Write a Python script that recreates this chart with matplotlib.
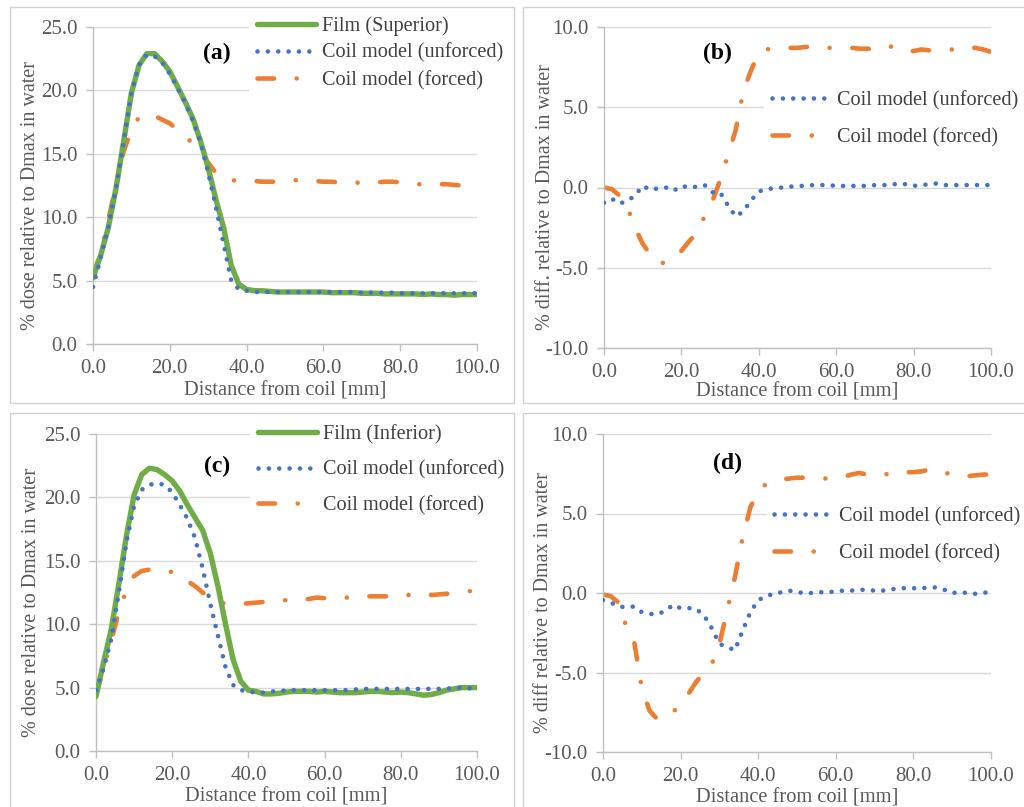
import numpy as np
import matplotlib
matplotlib.use("Agg")
import matplotlib.pyplot as plt
from matplotlib.patches import Rectangle

plt.rcParams["font.family"] = ["Liberation Serif", "DejaVu Serif"]
plt.rcParams["axes.unicode_minus"] = False

# Distance from coil [mm]
distance_mm = np.arange(0, 101, 2)

# (a) superior profile: % dose relative to Dmax in water
film_superior = [5.2, 7.0, 9.2, 12.3, 16.0, 19.8, 22.0, 22.9, 22.9, 22.3,
                 21.5, 20.3, 19.1, 17.8, 16.0, 13.9, 11.4, 9.2, 6.2, 4.7,
                 4.3, 4.2, 4.2, 4.15, 4.1, 4.1, 4.1, 4.1, 4.1, 4.1,
                 4.1, 4.05, 4.05, 4.05, 4.05, 4.0, 4.0, 4.0, 3.95, 3.95,
                 3.95, 3.95, 3.95, 3.9, 3.95, 3.9, 3.9, 3.85, 3.9, 3.9,
                 3.9]
unforced_superior = [4.5, 6.8, 9.3, 12.3, 16.0, 19.8, 22.0, 22.8, 22.7, 22.2,
                     21.3, 20.2, 19.0, 17.6, 15.9, 13.5, 10.8, 7.9, 5.0, 4.3,
                     4.2, 4.1, 4.1, 4.1, 4.1, 4.1, 4.1, 4.1, 4.1, 4.1,
                     4.1, 4.1, 4.1, 4.1, 4.1, 4.05, 4.05, 4.05, 4.05, 4.05,
                     4.0, 4.0, 4.0, 4.0, 4.0, 4.0, 4.0, 4.0, 4.0, 4.0,
                     4.0]
forced_superior = [5.4, 7.2, 9.8, 12.6, 15.2, 16.9, 17.9, 18.1, 18.0, 17.7,
                   17.4, 16.9, 16.4, 15.8, 15.2, 14.3, 13.5, 13.1, 12.9, 12.9,
                   12.85, 12.85, 12.8, 12.8, 12.8, 12.85, 12.9, 12.95, 12.9, 12.85,
                   12.8, 12.8, 12.75, 12.75, 12.75, 12.7, 12.7, 12.75, 12.8, 12.8,
                   12.75, 12.7, 12.65, 12.55, 12.55, 12.6, 12.6, 12.55, 12.5, 12.5,
                   12.45]

# (b) superior: % difference relative to Dmax in water
diff_unforced_superior = [-0.95, -0.7, -1.0, -0.85, -0.5, 0.1, -0.15, -0.05, 0.0, -0.2,
                          0.1, 0.0, 0.05, 0.15, -0.3, -0.3, -1.1, -1.8, -1.5, -0.8,
                          -0.25, -0.1, -0.05, 0.0, 0.05, 0.1, 0.1, 0.15, 0.15, 0.15,
                          0.1, 0.1, 0.1, 0.1, 0.1, 0.15, 0.15, 0.15, 0.25, 0.2,
                          0.1, 0.15, 0.2, 0.25, 0.15, 0.15, 0.15, 0.15, 0.15, 0.15,
                          0.15]
diff_forced_superior = [0.0, -0.1, -0.5, -1.2, -2.5, -3.5, -4.2, -4.7, -4.7, -4.4,
                        -3.95, -3.35, -2.8, -1.8, -0.85, 0.45, 2.0, 3.55, 6.0, 7.3,
                        8.4, 8.6, 8.7, 8.75, 8.7, 8.7, 8.75, 8.8, 8.75, 8.7,
                        8.7, 8.7, 8.7, 8.65, 8.65, 8.6, 8.7, 8.8, 8.55, 8.5,
                        8.5, 8.6, 8.55, 8.55, 8.55, 8.6, 8.6, 8.7, 8.7, 8.6,
                        8.45]

# (c) inferior profile
film_inferior = [4.3, 7.0, 9.6, 13.2, 17.0, 20.2, 21.8, 22.3, 22.2, 21.8,
                 21.3, 20.5, 19.4, 18.4, 17.4, 15.6, 13.0, 10.0, 7.2, 5.5,
                 4.8, 4.7, 4.5, 4.5, 4.55, 4.65, 4.7, 4.7, 4.7, 4.65,
                 4.7, 4.65, 4.6, 4.6, 4.6, 4.65, 4.7, 4.7, 4.65, 4.6,
                 4.65, 4.6, 4.5, 4.4, 4.45, 4.6, 4.8, 4.9, 5.0, 5.0,
                 5.0]
unforced_inferior = [4.8, 6.5, 8.8, 12.5, 16.5, 19.3, 20.6, 21.0, 21.1, 21.0,
                     20.4, 19.4, 18.3, 16.8, 14.4, 11.6, 9.1, 6.6, 5.2, 4.8,
                     4.7, 4.6, 4.6, 4.7, 4.7, 4.8, 4.8, 4.8, 4.8, 4.8,
                     4.8, 4.8, 4.8, 4.8, 4.85, 4.9, 4.9, 4.9, 4.9, 4.9,
                     4.9, 4.9, 4.9, 4.9, 4.9, 4.9, 4.9, 5.0, 5.0, 4.95,
                     4.95]
forced_inferior = [4.5, 6.5, 8.7, 11.0, 12.7, 13.8, 14.2, 14.3, 14.3, 14.3,
                   14.1, 13.8, 13.4, 13.0, 12.5, 12.0, 11.8, 11.6, 11.6, 11.6,
                   11.65, 11.7, 11.75, 11.8, 11.85, 11.9, 11.9, 11.9, 12.0, 12.1,
                   12.05, 12.1, 12.1, 12.1, 12.1, 12.2, 12.2, 12.2, 12.2, 12.25,
                   12.3, 12.3, 12.4, 12.45, 12.3, 12.35, 12.4, 12.45, 12.5, 12.6,
                   12.7]

# (d) inferior: % difference relative to Dmax in water
diff_unforced_inferior = [-0.45, -0.6, -0.85, -0.9, -0.85, -1.2, -1.32, -1.32, -1.15, -0.75,
                          -0.95, -0.95, -1.0, -1.4, -2.2, -3.2, -3.4, -3.6, -2.35, -1.2,
                          -0.45, -0.2, -0.05, 0.05, 0.15, 0.05, 0.0, 0.0, 0.05, 0.05,
                          0.1, 0.15, 0.15, 0.2, 0.2, 0.15, 0.15, 0.2, 0.3, 0.3,
                          0.3, 0.3, 0.35, 0.35, 0.2, 0.0, 0.05, 0.0, -0.05, 0.0,
                          0.1]
diff_forced_inferior = [-0.1, -0.2, -0.6, -2.1, -3.0, -6.0, -7.4, -7.95, -7.8, -7.5,
                        -7.0, -6.35, -5.6, -5.0, -4.5, -3.2, -1.1, 1.0, 3.5, 5.4,
                        6.4, 6.85, 7.0, 7.15, 7.2, 7.25, 7.25, 7.2, 7.2, 7.2,
                        7.25, 7.3, 7.45, 7.55, 7.45, 7.4, 7.45, 7.5, 7.6, 7.6,
                        7.6, 7.65, 7.75, 7.75, 7.6, 7.4, 7.4, 7.35, 7.4, 7.45,
                        7.45]

x_ticks = [0, 20, 40, 60, 80, 100]
dose_ticks = [0, 5, 10, 15, 20, 25]
diff_ticks = [-10, -5, 0, 5, 10]

GREEN = "#70AD47"
BLUE = "#4472C4"
ORANGE = "#ED7D31"
GRID = "#D9D9D9"
AXIS = "#BFBFBF"
TICKTXT = "#595959"
LEGTXT = "#404040"

TICK_FS = 15
LABEL_FS = 14.7
YLABEL_FS = 14.5
LEGEND_FS = 14.6

W, H = 1024, 807
fig = plt.figure(figsize=(W / 100, H / 100), dpi=100)
fig.patch.set_facecolor("white")


def px_axes(left, right, top, bottom):
    return fig.add_axes([left / W, 1 - bottom / H, (right - left) / W, (bottom - top) / H])


def style_axes(ax, ylim, yticks, ylabel, xlab_y, ylab_x):
    ax.set_xlim(0, 100)
    ax.set_ylim(*ylim)
    ax.set_xticks(x_ticks)
    ax.set_yticks(yticks)
    ax.set_xticklabels([f"{v:.1f}" for v in x_ticks])
    ax.set_yticklabels([f"{v:.1f}" for v in yticks])
    ax.grid(axis="y", color=GRID, lw=1.0)
    ax.set_axisbelow(True)
    for s in ("top", "right"):
        ax.spines[s].set_visible(False)
    for s in ("left", "bottom"):
        ax.spines[s].set_color(AXIS)
        ax.spines[s].set_linewidth(1.0)
    ax.tick_params(direction="out", length=5, width=1, color=AXIS,
                   labelcolor=TICKTXT, labelsize=TICK_FS, pad=6)
    ax.set_xlabel("Distance from coil [mm]", fontsize=LABEL_FS, color=TICKTXT)
    ax.set_ylabel(ylabel, fontsize=YLABEL_FS, color=TICKTXT)
    ax.xaxis.set_label_coords(0.5, xlab_y)
    ax.yaxis.set_label_coords(ylab_x, 0.47)


def plot_film(ax, y, label):
    ax.plot(distance_mm, y, color=GREEN, lw=3.9, solid_capstyle="round",
            solid_joinstyle="round", label=label, zorder=3)


def plot_unforced(ax, y):
    ax.plot(distance_mm, y, color=BLUE, lw=3.3, linestyle=(0, (0.01, 2.25)),
            dash_capstyle="round", label="Coil model (unforced)", zorder=4)


def plot_forced(ax, y):
    ax.plot(distance_mm, y, color=ORANGE, lw=3.3, linestyle=(0, (3.6, 4.95, 0.01, 4.95)),
            dash_capstyle="round", label="Coil model (forced)", zorder=2)


def add_legend(ax, x_px, y_px, spacing):
    leg = ax.legend(loc="upper left", bbox_to_anchor=(x_px / W, 1 - y_px / H),
                    bbox_transform=fig.transFigure, borderaxespad=0, frameon=True,
                    fancybox=False, edgecolor="none", facecolor="white", framealpha=1,
                    fontsize=LEGEND_FS, handlelength=2.9, handletextpad=0.3,
                    labelspacing=spacing, borderpad=0.4)
    for t in leg.get_texts():
        t.set_color(LEGTXT)
    return leg


# (a)
ax_a = px_axes(93, 477, 27, 344)
style_axes(ax_a, (0, 25), dose_ticks, "% dose relative to Dmax in water", -0.118, -0.138)
plot_film(ax_a, film_superior, "Film (Superior)")
plot_unforced(ax_a, unforced_superior)
plot_forced(ax_a, forced_superior)
add_legend(ax_a, 249, 8, 0.38)

# (b)
ax_b = px_axes(604, 991, 27, 348)
style_axes(ax_b, (-10, 10), diff_ticks, "% diff. relative to Dmax in water", -0.107, -0.127)
plot_unforced(ax_b, diff_unforced_superior)
plot_forced(ax_b, diff_forced_superior)
add_legend(ax_b, 764, 83, 0.87)

# (c)
ax_c = px_axes(96, 477, 434, 751)
style_axes(ax_c, (0, 25), dose_ticks, "% dose relative to Dmax in water", -0.116, -0.144)
plot_film(ax_c, film_inferior, "Film (Inferior)")
plot_unforced(ax_c, unforced_inferior)
plot_forced(ax_c, forced_inferior)
add_legend(ax_c, 250, 417, 0.78)

# (d)
ax_d = px_axes(603, 991, 434, 752)
style_axes(ax_d, (-10, 10), diff_ticks, "% diff relative to Dmax in water", -0.114, -0.129)
plot_unforced(ax_d, diff_unforced_inferior)
plot_forced(ax_d, diff_forced_inferior)
add_legend(ax_d, 766, 499, 0.85)

# panel tags
for label, (cx, cy) in {"(a)": (217, 53), "(b)": (717, 53),
                        "(c)": (217, 466), "(d)": (727, 463)}.items():
    fig.text(cx / W, 1 - cy / H, label, ha="center", va="center",
             fontsize=17, fontweight="bold", color="black")

# panel frames
for (x0, y0, x1, y1) in [(10, 7, 514, 403), (523, 7, 1030, 403),
                         (10, 413, 514, 815), (523, 413, 1030, 815)]:
    fig.add_artist(Rectangle((x0 / W, 1 - y1 / H), (x1 - x0) / W, (y1 - y0) / H,
                             transform=fig.transFigure, fill=False,
                             edgecolor="#D0D0D0", lw=1.0, zorder=10))

fig.savefig("out.png", dpi=100, facecolor="white")
